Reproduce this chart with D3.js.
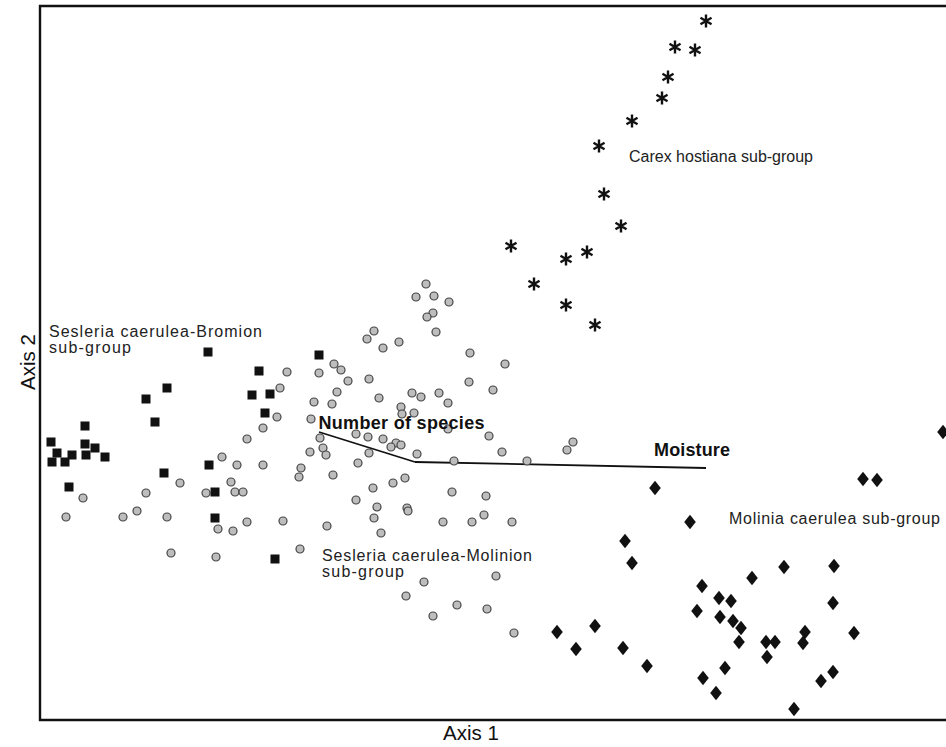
<!DOCTYPE html>
<html>
<head>
<meta charset="utf-8">
<script src="https://cdn.jsdelivr.net/npm/d3@7"></script>
<style>
  html, body { margin: 0; padding: 0; background: #fff; }
  svg { display: block; }
  text { font-family: "Liberation Sans", Arial, sans-serif; }
</style>
</head>
<body>
<svg id="chart" width="946" height="747"></svg>
<script>
// ---- Data (ordination scores, Axis 1 / Axis 2) ----
const bromionX = [0.11,0.17,0.12,0.25,0.32,0.45,0.45,0.46,0.55,0.65,0.29,1.06,1.27,1.15,1.24,1.68,1.69,1.75,1.75,2.19,2.12,2.30,2.25,2.35,2.79];
const bromionY = [2.78,2.67,2.58,2.58,2.65,2.94,2.76,2.65,2.72,2.63,2.33,3.21,3.32,2.98,2.47,3.68,2.55,2.28,2.02,3.49,3.25,3.26,3.07,1.61,3.65];

const molinionX = [0.43,0.26,0.83,0.97,1.27,1.06,1.40,1.31,1.76,1.66,1.82,1.97,1.91,1.95,2.03,1.78,1.93,2.07,2.43,2.60,2.23,2.07,2.23,2.37,2.40,2.47,2.79,2.74,2.71,2.80,2.70,2.61,2.59,
  2.94,3.01,3.08,2.97,2.92,2.83,2.86,2.93,2.87,
  3.86,3.76,3.94,4.09,3.93,3.87,3.96,3.34,3.27,3.43,3.59,4.30,4.65,3.29,3.39,3.72,3.81,3.99,4.29,4.53,4.08,3.61,3.62,3.74,
  3.16,3.28,3.43,3.56,3.61,3.51,4.08,4.49,3.29,3.77,4.62,3.18,4.14,4.87,3.65,3.53,3.33,4.12,4.46,3.16,3.37,3.67,3.68,3.34,4.03,4.32,4.44,4.72,3.41,
  3.84,3.66,3.93,4.17,4.47,4.56,4.74,5.27,5.33];
const molinionY = [2.22,2.03,2.03,2.09,2.03,2.27,2.37,1.67,1.63,2.27,2.63,2.55,2.38,2.28,2.28,1.91,1.89,1.98,1.99,1.71,2.55,2.81,2.92,3.03,3.32,3.48,3.47,3.18,3.01,2.82,2.68,2.52,2.43,
  3.56,3.50,3.39,3.28,3.16,2.72,2.65,2.45,1.94,
  4.36,4.23,4.24,4.18,4.07,4.03,3.88,3.89,3.81,3.72,3.78,3.67,3.56,3.41,3.22,3.27,3.23,3.27,3.38,3.30,3.17,3.13,3.06,3.07,
  2.86,2.83,2.81,2.77,2.75,2.73,2.91,2.84,2.67,2.66,2.68,2.57,2.59,2.59,2.42,2.37,2.32,2.28,2.24,2.20,2.13,2.12,2.09,2.02,1.98,1.98,2.05,1.98,1.87,
  1.38,1.24,1.04,1.15,1.11,1.44,0.87,2.70,2.78];

const caricetumX = [6.66,6.35,6.55,6.28,6.22,5.92,5.59,5.64,5.81,4.71,5.26,5.47,4.94,5.26,5.55];
const caricetumY = [6.99,6.73,6.70,6.43,6.22,5.99,5.74,5.26,4.94,4.74,4.61,4.68,4.36,4.15,3.95];

const moliniaX = [9.03,8.23,8.37,6.15,6.50,5.85,5.92,7.44,7.94,7.12,6.62,6.79,6.91,6.57,6.80,6.93,7.93,7.01,6.99,5.17,5.36,5.55,5.83,6.07,7.26,7.35,7.65,7.63,8.14,7.27,6.85,6.63,6.76,7.81,7.93,7.54];
const moliniaY = [2.88,2.41,2.40,2.32,1.98,1.79,1.57,1.53,1.54,1.42,1.34,1.22,1.19,1.09,1.03,0.99,1.17,0.92,0.78,0.88,0.71,0.94,0.72,0.54,0.78,0.78,0.88,0.77,0.87,0.63,0.52,0.42,0.27,0.39,0.48,0.11];

// Environmental vectors (origin, end)
const vectorNames = ["Number of species", "Moisture"];
const vectorOrigin = [3.75, 2.58];
const vectorEndX = [2.79, 6.66];
const vectorEndY = [2.88, 2.52];
const vectorLabelX = [2.785, 6.14];
const vectorLabelY = [2.91, 2.64];

// Group labels
const groupLabelLines = [["Carex hostiana sub-group"], ["Sesleria caerulea-Bromion", "sub-group"], ["Sesleria caerulea-Molinion", "sub-group"], ["Molinia caerulea sub-group"]];
const groupLabelX = [5.89, 0.09, 2.82, 6.89];
const groupLabelY = [5.58, 3.83, 1.59, 1.96];

const axisTitles = ["Axis 1", "Axis 2"];

// ---- Layout (text widths as rendered in the original) ----
const groupLabelWidths = [[184], [213, 82], [210, 82], [211]];
const vectorLabelWidths = [166, 76];

// ---- Drawing ----
(function () {
const svg = d3.select("#chart");
const pL = 40, pR = 948, pT = 6, pB = 720;
const x = d3.scaleLinear().domain([0, 9.08]).range([pL, pR]);
const y = d3.scaleLinear().domain([0, 7.14]).range([pB, pT]);

// Frame
svg.append("path")
  .attr("d", `M${pR},${pT}H${pL}V${pB}H${pR}`)
  .attr("fill", "none").attr("stroke", "#111").attr("stroke-width", 2.4);

// Vectors
const vg = svg.append("g");
vectorNames.forEach((n, i) => {
  vg.append("line")
    .attr("x1", x(vectorOrigin[0])).attr("y1", y(vectorOrigin[1]))
    .attr("x2", x(vectorEndX[i])).attr("y2", y(vectorEndY[i]))
    .attr("stroke", "#111").attr("stroke-width", 1.8);
});

// Molinion circles
svg.append("g").selectAll("circle").data(d3.range(molinionX.length)).join("circle")
  .attr("cx", i => x(molinionX[i])).attr("cy", i => y(molinionY[i]))
  .attr("r", 4).attr("fill", "#bdbdbd").attr("stroke", "#444").attr("stroke-width", 1.2);

// Bromion squares
svg.append("g").selectAll("rect").data(d3.range(bromionX.length)).join("rect")
  .attr("x", i => x(bromionX[i]) - 4.5).attr("y", i => y(bromionY[i]) - 4.5)
  .attr("width", 9).attr("height", 9).attr("fill", "#111");

// Molinia diamonds
const diamond = "M0,-7.2L5.8,0L0,7.2L-5.8,0Z";
svg.append("g").selectAll("path").data(d3.range(moliniaX.length)).join("path")
  .attr("transform", i => `translate(${x(moliniaX[i])},${y(moliniaY[i])})`)
  .attr("d", diamond).attr("fill", "#111");

// Carex asterisks
const ast = d3.symbol().type(d3.symbolAsterisk).size(115)();
svg.append("g").selectAll("path").data(d3.range(caricetumX.length)).join("path")
  .attr("transform", i => `translate(${x(caricetumX[i])},${y(caricetumY[i])})`)
  .attr("d", ast).attr("fill", "none").attr("stroke", "#111").attr("stroke-width", 2.4);

// Vector labels
vectorNames.forEach((n, i) => {
  svg.append("text").attr("x", x(vectorLabelX[i])).attr("y", y(vectorLabelY[i]))
    .attr("font-size", 18).attr("font-weight", "bold").attr("fill", "#111")
    .attr("textLength", vectorLabelWidths[i]).attr("lengthAdjust", "spacing")
    .text(n);
});

// Group labels
groupLabelLines.forEach((lines, i) => {
  lines.forEach((l, j) => {
    svg.append("text").attr("x", x(groupLabelX[i])).attr("y", y(groupLabelY[i]) + j * 16)
      .attr("font-size", 16).attr("fill", "#222")
      .attr("textLength", groupLabelWidths[i][j]).attr("lengthAdjust", "spacing")
      .text(l);
  });
});

// Axis titles
svg.append("text").attr("x", 471).attr("y", 740)
  .attr("text-anchor", "middle").attr("font-size", 20.5).attr("fill", "#111").text(axisTitles[0]);
svg.append("text").attr("transform", `translate(35,362) rotate(-90)`)
  .attr("text-anchor", "middle").attr("font-size", 20.5).attr("fill", "#111").text(axisTitles[1]);
})();
</script>
</body>
</html>
